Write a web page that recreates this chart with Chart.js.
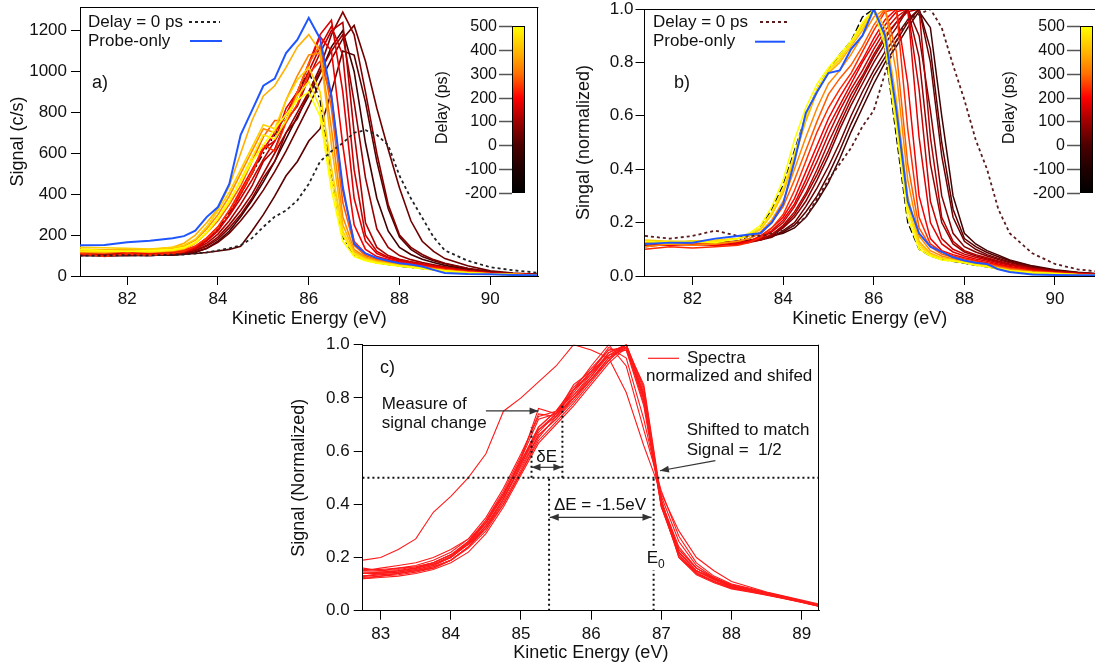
<!DOCTYPE html>
<html>
<head>
<meta charset="utf-8">
<title>Delay-resolved spectra</title>
<script src="https://cdn.jsdelivr.net/npm/chart.js@4.4.1/dist/chart.umd.min.js"></script>
<style>
  html, body { margin: 0; padding: 0; background: #fff; }
  #page { position: relative; width: 1095px; height: 668px; overflow: hidden; background: #fff; }
  #page canvas { position: absolute; }
</style>
</head>
<body>
<div id="page">
  <canvas id="chartA" width="550" height="332" style="left:0;top:0;width:550px;height:332px"></canvas>
  <canvas id="chartB" width="545" height="332" style="left:550px;top:0;width:545px;height:332px"></canvas>
  <canvas id="chartC" width="550" height="338" style="left:280px;top:330px;width:550px;height:338px"></canvas>
</div>
<script>
// -- THE DATA --

// kinetic energy grid (eV) for panels a) and b)
const energyAB = [80.95,81.5,82,82.5,83,83.25,83.5,83.75,84,84.25,84.5,84.75,85,85.25,85.5,85.75,86,86.25,86.5,86.75,87,87.25,87.5,87.75,88,88.25,88.5,88.75,89,89.5,90,90.5,91.05];

// a) signal in counts/s
const probeA = [150,152,165,172,185,195,222,288,337,450,690,810,930,965,1090,1155,1262,1160,880,435,157,110,88,75,62,56,46,30,15,10,8,5,4];
const zeroA  = [100,100,102,100,105,105,110,115,125,135,150,185,240,290,320,370,450,560,610,650,700,713,690,640,490,380,285,190,125,75,43,28,16];
const blackA = [105,100,102,100,105,110,130,170,230,310,400,500,600,690,790,900,1000,860,480,190,100,78,64,56,48,42,36,30,24,15,9,6,4];
const a500 = [130,125,120,125,130,140,165,215,285,370,460,560,640,720,790,860,900,780,420,170,95,75,62,55,48,42,36,30,24,15,9,6,4];
const a460 = [120,118,122,118,125,135,160,210,280,360,470,580,690,670,760,880,950,820,470,200,105,80,66,58,50,44,38,31,25,16,10,7,5];
const a420 = [140,138,135,132,140,150,180,240,320,410,520,630,740,720,860,960,1020,900,530,220,110,82,68,58,50,45,40,32,25,16,10,7,5];
const a380 = [125,125,130,128,140,160,200,260,330,440,600,760,880,930,1020,1120,1180,1100,640,250,120,88,72,62,55,48,40,33,26,16,10,7,5];
const a330 = [130,128,125,130,135,145,175,230,300,390,500,610,720,700,860,980,1080,1090,720,290,130,92,75,64,56,50,43,35,28,18,11,7,5];
const a280 = [115,112,120,115,120,130,160,210,270,350,440,560,680,760,760,900,1040,1130,820,360,150,100,80,68,58,52,45,37,30,19,12,8,5];
const a230 = [110,95,108,102,110,120,145,185,240,320,410,500,640,610,750,840,990,1050,880,420,170,110,86,72,62,55,48,40,32,20,12,8,5];
const a190 = [120,115,118,112,118,125,145,185,240,320,420,520,620,700,790,900,1030,1170,1100,640,250,130,95,80,68,60,52,44,36,22,13,8,5];
const a160 = [105,100,110,105,112,118,135,170,220,300,400,500,620,660,820,900,1040,1180,1250,900,380,170,110,88,74,65,56,47,38,24,14,9,6];
const a130 = [112,110,105,108,115,122,140,175,225,295,380,470,570,660,760,880,1000,1120,1220,1080,520,200,120,92,78,68,58,48,40,25,15,9,6];
const a100 = [108,104,110,106,112,118,132,160,205,270,350,440,560,620,760,830,970,1090,1200,1240,700,260,140,100,82,70,60,50,42,26,15,9,6];
const a70  = [100,102,104,100,108,112,125,150,190,250,320,400,500,600,700,800,900,1000,1100,1180,850,480,230,140,100,80,66,55,45,28,16,10,6];
const a40  = [110,112,108,105,110,115,125,145,180,235,300,380,480,560,700,770,900,1020,1180,1290,1180,900,600,350,200,140,105,80,62,38,20,12,7];
const a10  = [100,105,100,102,105,108,118,135,165,210,270,340,420,510,610,720,830,950,1060,1160,1225,1050,820,620,430,270,170,120,85,50,25,14,8];
const aM20 = [105,100,102,100,104,106,110,115,122,130,145,220,300,390,490,560,660,720,900,1100,1080,850,560,330,190,130,95,75,60,36,20,12,7];
const aM60 = [100,98,100,104,102,106,115,135,170,220,290,370,460,560,670,780,880,990,1120,1200,1000,650,380,220,140,105,82,66,52,32,18,11,6];

// b) normalized signal
const probeB = [0.12,0.125,0.125,0.14,0.15,0.155,0.16,0.2,0.27,0.43,0.61,0.69,0.76,0.77,0.85,0.9,1.0,0.9,0.62,0.28,0.16,0.11,0.09,0.07,0.058,0.05,0.045,0.025,0.015,0.006,0.004,0.003,0.003];
const zeroB  = [0.15,0.14,0.15,0.17,0.15,0.15,0.15,0.16,0.17,0.19,0.22,0.29,0.36,0.42,0.48,0.56,0.62,0.76,0.88,0.96,0.98,1.0,0.93,0.79,0.66,0.51,0.4,0.25,0.16,0.085,0.045,0.025,0.015];
const blackB = [0.12,0.125,0.12,0.125,0.13,0.15,0.18,0.25,0.34,0.47,0.6,0.7,0.77,0.83,0.88,0.97,1.0,0.85,0.52,0.2,0.1,0.075,0.062,0.055,0.048,0.04,0.034,0.027,0.02,0.012,0.008,0.005,0.003];
const b500 = [0.13,0.125,0.13,0.125,0.14,0.16,0.19,0.26,0.36,0.51,0.63,0.72,0.78,0.83,0.88,0.95,1.0,0.86,0.55,0.22,0.1,0.075,0.06,0.055,0.05,0.04,0.035,0.025,0.02,0.012,0.008,0.005,0.003];
const b460 = [0.12,0.13,0.125,0.13,0.14,0.155,0.18,0.24,0.33,0.46,0.6,0.7,0.77,0.82,0.87,0.93,1.0,0.88,0.58,0.25,0.11,0.08,0.065,0.058,0.05,0.042,0.036,0.028,0.02,0.013,0.008,0.005,0.003];
const b420 = [0.135,0.13,0.13,0.135,0.14,0.15,0.175,0.23,0.32,0.45,0.59,0.7,0.77,0.81,0.87,0.94,1.0,0.9,0.61,0.27,0.12,0.08,0.066,0.058,0.051,0.043,0.037,0.029,0.021,0.013,0.008,0.005,0.003];
const b380 = [0.125,0.12,0.13,0.13,0.14,0.15,0.175,0.23,0.31,0.44,0.58,0.69,0.76,0.8,0.86,0.92,1.0,0.93,0.66,0.3,0.13,0.085,0.068,0.06,0.052,0.045,0.038,0.03,0.022,0.014,0.009,0.005,0.003];
const b330 = [0.11,0.12,0.115,0.12,0.13,0.14,0.165,0.21,0.28,0.4,0.52,0.63,0.72,0.77,0.83,0.9,0.97,1.0,0.76,0.36,0.15,0.095,0.075,0.065,0.056,0.048,0.04,0.032,0.024,0.015,0.01,0.006,0.003];
const b280 = [0.13,0.12,0.125,0.12,0.13,0.14,0.16,0.2,0.26,0.36,0.47,0.58,0.68,0.74,0.79,0.86,0.94,1.0,0.84,0.42,0.18,0.11,0.082,0.07,0.06,0.052,0.044,0.035,0.027,0.017,0.011,0.006,0.004];
const b230 = [0.1,0.11,0.105,0.11,0.115,0.125,0.145,0.18,0.23,0.32,0.43,0.54,0.63,0.7,0.76,0.84,0.92,0.99,1.0,0.55,0.22,0.12,0.09,0.075,0.064,0.055,0.046,0.038,0.03,0.019,0.012,0.007,0.004];
const b190 = [0.12,0.115,0.12,0.115,0.12,0.13,0.15,0.18,0.22,0.29,0.39,0.49,0.59,0.67,0.74,0.81,0.89,0.96,1.0,0.72,0.3,0.14,0.095,0.08,0.068,0.058,0.05,0.041,0.033,0.02,0.012,0.007,0.004];
const b160 = [0.11,0.12,0.115,0.12,0.125,0.13,0.145,0.17,0.21,0.27,0.36,0.46,0.56,0.64,0.72,0.8,0.87,0.94,0.99,1.0,0.52,0.2,0.12,0.09,0.075,0.064,0.055,0.045,0.036,0.022,0.013,0.008,0.004];
const b130 = [0.12,0.115,0.12,0.12,0.125,0.13,0.14,0.165,0.2,0.26,0.34,0.43,0.53,0.62,0.7,0.77,0.85,0.92,0.97,1.0,0.7,0.28,0.14,0.1,0.082,0.07,0.06,0.05,0.04,0.025,0.015,0.009,0.005];
const b100 = [0.115,0.12,0.12,0.115,0.12,0.125,0.135,0.155,0.19,0.24,0.31,0.4,0.5,0.59,0.68,0.75,0.83,0.9,0.95,0.99,1.0,0.52,0.22,0.13,0.095,0.08,0.068,0.056,0.045,0.028,0.017,0.01,0.006];
const b70  = [0.12,0.118,0.122,0.12,0.125,0.13,0.138,0.155,0.185,0.23,0.3,0.38,0.47,0.57,0.66,0.74,0.82,0.89,0.95,1.0,0.82,0.42,0.2,0.12,0.09,0.076,0.064,0.053,0.043,0.027,0.016,0.01,0.005];
const b40  = [0.12,0.125,0.12,0.12,0.125,0.13,0.135,0.15,0.18,0.22,0.28,0.36,0.45,0.55,0.64,0.72,0.8,0.87,0.93,1.0,0.9,0.62,0.3,0.16,0.11,0.09,0.075,0.062,0.05,0.031,0.019,0.011,0.006];
const b10  = [0.12,0.12,0.125,0.12,0.125,0.13,0.135,0.145,0.17,0.2,0.26,0.33,0.41,0.5,0.6,0.69,0.77,0.84,0.9,0.96,1.0,0.8,0.45,0.22,0.13,0.1,0.08,0.066,0.053,0.033,0.02,0.012,0.007];
const bM20 = [0.125,0.12,0.12,0.125,0.13,0.13,0.14,0.15,0.165,0.19,0.24,0.3,0.38,0.47,0.57,0.66,0.75,0.82,0.88,0.95,1.0,0.85,0.5,0.25,0.14,0.11,0.088,0.072,0.057,0.036,0.021,0.013,0.007];
const bM60 = [0.13,0.125,0.13,0.125,0.13,0.135,0.14,0.15,0.16,0.18,0.22,0.28,0.35,0.44,0.54,0.63,0.72,0.8,0.86,0.93,0.99,0.93,0.6,0.3,0.16,0.12,0.095,0.078,0.06,0.038,0.023,0.014,0.008];

// pump-probe delay (ps) of each colored spectrum, and the colorbar ticks
const delays = [500,460,420,380,330,280,230,190,160,130,100,70,40,10,-20,-60];
const delayTicks = [-200,-100,0,100,200,300,400,500];

// c) normalized and shifted spectra
const energyC = [82.75,83,83.25,83.5,83.75,84,84.25,84.5,84.75,85,85.25,85.5,85.75,86,86.25,86.5,86.75,87,87.25,87.5,87.75,88,88.25,88.5,88.75,89,89.25];
const cOut = [0.19,0.2,0.23,0.27,0.37,0.43,0.5,0.59,0.75,0.8,0.86,0.92,1.0,0.98,0.95,0.82,0.62,0.44,0.3,0.2,0.15,0.11,0.09,0.07,0.055,0.04,0.025];
const c1  = [0.14,0.14,0.145,0.155,0.17,0.2,0.25,0.32,0.42,0.55,0.67,0.74,0.8,0.88,0.96,1.0,0.8,0.4,0.22,0.15,0.12,0.09,0.08,0.065,0.05,0.035,0.02];
const c2  = [0.13,0.135,0.14,0.15,0.165,0.19,0.24,0.31,0.41,0.53,0.66,0.72,0.79,0.87,0.95,0.99,0.82,0.41,0.21,0.14,0.11,0.085,0.075,0.06,0.048,0.033,0.018];
const c3  = [0.15,0.15,0.155,0.165,0.18,0.21,0.26,0.34,0.44,0.57,0.72,0.74,0.83,0.89,0.97,1.0,0.79,0.39,0.23,0.16,0.12,0.095,0.08,0.066,0.052,0.036,0.02];
const c4  = [0.12,0.13,0.135,0.145,0.16,0.19,0.235,0.3,0.4,0.52,0.64,0.71,0.78,0.86,0.94,1.0,0.83,0.4,0.2,0.14,0.11,0.085,0.072,0.06,0.046,0.032,0.017];
const c5  = [0.155,0.155,0.16,0.17,0.19,0.22,0.27,0.35,0.46,0.59,0.73,0.75,0.84,0.91,0.98,0.99,0.78,0.41,0.24,0.16,0.125,0.098,0.082,0.068,0.053,0.037,0.021];
const c6  = [0.14,0.145,0.15,0.16,0.175,0.205,0.255,0.33,0.43,0.56,0.68,0.73,0.81,0.88,0.97,1.0,0.81,0.4,0.22,0.15,0.115,0.09,0.078,0.063,0.05,0.034,0.019];
const c7  = [0.13,0.14,0.145,0.155,0.17,0.2,0.26,0.34,0.45,0.58,0.74,0.73,0.83,0.9,0.98,0.98,0.77,0.39,0.21,0.145,0.11,0.088,0.076,0.062,0.049,0.034,0.018];
const c8  = [0.145,0.145,0.15,0.16,0.18,0.21,0.25,0.31,0.4,0.52,0.65,0.73,0.8,0.87,0.94,1.0,0.84,0.41,0.22,0.15,0.12,0.092,0.079,0.064,0.05,0.035,0.02];
const c9  = [0.12,0.125,0.13,0.14,0.155,0.18,0.22,0.29,0.39,0.51,0.63,0.7,0.77,0.85,0.93,0.99,0.85,0.42,0.2,0.135,0.105,0.082,0.07,0.058,0.045,0.031,0.016];
const c10 = [0.15,0.16,0.17,0.18,0.2,0.23,0.27,0.33,0.43,0.57,0.76,0.74,0.85,0.9,0.96,0.98,0.8,0.41,0.23,0.16,0.12,0.094,0.08,0.066,0.051,0.036,0.02];
const c11 = [0.14,0.14,0.15,0.16,0.175,0.2,0.25,0.33,0.44,0.56,0.69,0.75,0.83,0.92,1.0,0.92,0.68,0.45,0.28,0.18,0.13,0.1,0.085,0.068,0.053,0.037,0.021];
const c12 = [0.13,0.135,0.14,0.15,0.165,0.19,0.24,0.32,0.42,0.55,0.68,0.74,0.82,0.9,0.99,0.95,0.72,0.43,0.26,0.17,0.125,0.095,0.08,0.065,0.05,0.035,0.02];
const c13 = [0.125,0.13,0.14,0.15,0.16,0.19,0.24,0.31,0.42,0.54,0.66,0.72,0.8,0.87,0.95,1.0,0.81,0.39,0.21,0.14,0.11,0.086,0.074,0.06,0.047,0.033,0.017];
const c14 = [0.16,0.15,0.16,0.165,0.18,0.21,0.26,0.33,0.44,0.56,0.69,0.75,0.81,0.89,0.96,1.0,0.8,0.4,0.22,0.15,0.118,0.09,0.078,0.064,0.05,0.035,0.02];

// c) guide lines and arrows (eV, normalized signal)
const halfSpan = [82.74, 89.25];
const halfLevel = [0.5, 0.5];
const dropLevel = [0, 0.5];
const e0Line = [86.89, 86.89];
const e1Line = [85.4, 85.4];
const dELeft = [85.15, 85.15];
const dELeftY = [0.5, 0.69];
const dERight = [85.59, 85.59];
const dERightY = [0.5, 0.773];
const arrowMeasure = [84.5, 0.751, 85.25, 0.751];
const arrowSmall = [85.15, 0.539, 85.59, 0.539];
const arrowBig = [85.41, 0.351, 86.86, 0.351];
const arrowShift = [87.77, 0.564, 86.98, 0.526];

// axis ticks
const ticksABx = [82,84,86,88,90];
const ticksAy = [0,200,400,600,800,1000,1200];
const ticksNorm = [0,0.2,0.4,0.6,0.8,1.0];
const ticksCx = [83,84,85,86,87,88,89];

// -- STYLE --

const FONT = '"Liberation Sans", Arial, sans-serif';
const BLUE = '#1f56ff';
const curvesA = [a500,a460,a420,a380,a330,a280,a230,a190,a160,a130,a100,a70,a40,a10,aM20,aM60];
const curvesB = [b500,b460,b420,b380,b330,b280,b230,b190,b160,b130,b100,b70,b40,b10,bM20,bM60];
const curvesC = [cOut,c1,c2,c3,c4,c5,c6,c7,c8,c9,c10,c11,c12,c13,c14];
const delayColors = ['#ffff00','#ffea00','#ffd000','#ffb000','#ff8a00','#ff5c00','#ff2a00','#f50000',
                     '#e00000','#c80000','#b00000','#980000','#840000','#6e0000','#5a0000','#420000'];
const cbStops = [[0,'#000000'],[0.143,'#200000'],[0.286,'#4c0000'],[0.429,'#a00000'],
                 [0.571,'#ff0000'],[0.714,'#ff7000'],[0.857,'#ffbc00'],[1,'#ffff00']];

Chart.defaults.font.family = FONT;
Chart.defaults.color = '#111';

function series(xs, ys, color, width, dash) {
  return {
    data: xs.map((x, i) => ({x: x, y: ys[i]})),
    borderColor: color,
    backgroundColor: color,
    borderWidth: width,
    borderDash: dash || [],
    pointRadius: 0,
    tension: 0,
    fill: false
  };
}

function axes(o) {
  return {
    x: {
      type: 'linear', min: o.xMin, max: o.xMax,
      border: {color: '#000', width: 1},
      grid: {drawOnChartArea: false, color: '#000', tickLength: 9},
      ticks: {color: '#111', font: {size: 17}, padding: 4, maxRotation: 0, autoSkip: false},
      afterBuildTicks: s => { s.ticks = o.xTicks.map(v => ({value: v})); },
      afterFit: s => { s.height = o.xH; s.paddingLeft = 0; s.paddingRight = 0; },
      title: {display: true, text: 'Kinetic Energy (eV)', color: '#111', font: {size: 18},
              padding: {top: 0, bottom: o.xTitlePad}}
    },
    y: {
      type: 'linear', min: o.yMin, max: o.yMax,
      border: {color: '#000', width: 1},
      grid: {drawOnChartArea: false, color: '#000', tickLength: 9},
      ticks: {color: '#111', font: {size: 17}, padding: o.yTickPad, autoSkip: false, callback: o.yFmt},
      afterBuildTicks: s => { s.ticks = o.yTicks.map(v => ({value: v})); },
      afterFit: s => { s.width = o.yW; s.paddingTop = 0; s.paddingBottom = 0; },
      title: {display: true, text: o.yTitle, color: '#111', font: {size: 18},
              padding: {top: o.yTitlePad, bottom: 0}}
    }
  };
}

function arrowHead(ctx, x1, y1, x2, y2) {
  const ang = Math.atan2(y2 - y1, x2 - x1), L = 9, W = 3.5;
  const c = Math.cos(ang), s = Math.sin(ang);
  ctx.beginPath();
  ctx.moveTo(x2, y2);
  ctx.lineTo(x2 - L * c + W * s, y2 - L * s - W * c);
  ctx.lineTo(x2 - L * c - W * s, y2 - L * s + W * c);
  ctx.closePath();
  ctx.fill();
}

// frame, legend, labels, colorbar and arrows
const decor = {
  id: 'decor',
  afterDatasetsDraw(chart, args, o) {
    const ctx = chart.ctx, a = chart.chartArea;
    const sx = chart.scales.x, sy = chart.scales.y;
    ctx.save();
    ctx.strokeStyle = '#000';
    ctx.lineWidth = 1;
    ctx.setLineDash([]);
    ctx.beginPath();
    ctx.moveTo(a.left, Math.round(a.top) + 0.5);
    ctx.lineTo(a.right, Math.round(a.top) + 0.5);
    if (o.rightFrame) {
      ctx.moveTo(Math.round(a.right) - 0.5, a.top);
      ctx.lineTo(Math.round(a.right) - 0.5, a.bottom);
    }
    ctx.stroke();

    (o.legend || []).forEach(l => {
      ctx.strokeStyle = l.color;
      ctx.lineWidth = l.width;
      ctx.setLineDash(l.dash || []);
      ctx.beginPath();
      ctx.moveTo(l.x1, l.y);
      ctx.lineTo(l.x2, l.y);
      ctx.stroke();
    });
    ctx.setLineDash([]);

    (o.arrows || []).forEach(r => {
      const x1 = sx.getPixelForValue(r.p[0]), y1 = sy.getPixelForValue(r.p[1]);
      const x2 = sx.getPixelForValue(r.p[2]), y2 = sy.getPixelForValue(r.p[3]);
      ctx.strokeStyle = '#333';
      ctx.fillStyle = '#333';
      ctx.lineWidth = 1.2;
      ctx.beginPath();
      ctx.moveTo(x1, y1);
      ctx.lineTo(x2, y2);
      ctx.stroke();
      arrowHead(ctx, x1, y1, x2, y2);
      if (r.both) arrowHead(ctx, x2, y2, x1, y1);
    });

    ctx.textBaseline = 'middle';
    (o.texts || []).forEach(t => {
      const size = t.size || 17;
      ctx.font = size + 'px ' + FONT;
      ctx.textAlign = t.align || 'left';
      if (t.bg) {
        const w = ctx.measureText(t.text).width + (t.sub ? 10 : 0);
        ctx.fillStyle = '#fff';
        ctx.fillRect(t.x - 2, t.y - 10, w + 4, 22);
      }
      ctx.fillStyle = '#111';
      ctx.fillText(t.text, t.x, t.y);
      if (t.sub) {
        const w = ctx.measureText(t.text).width;
        ctx.font = '12px ' + FONT;
        ctx.fillText(t.sub, t.x + w, t.y + 6);
      }
    });

    const cb = o.colorbar;
    if (cb) {
      const g = ctx.createLinearGradient(0, cb.y + cb.h, 0, cb.y);
      cbStops.forEach(s => g.addColorStop(s[0], s[1]));
      ctx.fillStyle = g;
      ctx.fillRect(cb.x, cb.y, cb.w, cb.h);
      ctx.strokeStyle = '#000';
      ctx.lineWidth = 1;
      ctx.strokeRect(cb.x + 0.5, cb.y + 0.5, cb.w - 1, cb.h - 1);
      const lo = delayTicks[0], hi = delayTicks[delayTicks.length - 1];
      ctx.font = '16px ' + FONT;
      ctx.textAlign = 'right';
      delayTicks.forEach(v => {
        const y = Math.round(cb.y + cb.h - (v - lo) / (hi - lo) * cb.h) + 0.5;
        ctx.strokeStyle = '#555';
        ctx.lineWidth = 1.5;
        ctx.beginPath();
        ctx.moveTo(cb.x - 13, y);
        ctx.lineTo(cb.x, y);
        ctx.stroke();
        ctx.fillStyle = '#111';
        ctx.fillText(String(v), cb.x - 15, y);
      });
      ctx.save();
      ctx.translate(cb.titleX, cb.y + cb.h / 2 - 2);
      ctx.rotate(-Math.PI / 2);
      ctx.textAlign = 'center';
      ctx.font = '16px ' + FONT;
      ctx.fillText('Delay (ps)', 0, 0);
      ctx.restore();
    }
    ctx.restore();
  }
};

// -- THE CHARTS --

// first dataset is drawn on top; the -200 ps (black) spectrum sits underneath
const setsA = [
  series(energyAB, probeA, BLUE, 2),
  series(energyAB, zeroA, '#222', 1.8, [3, 3])
].concat(curvesA.map((c, i) => series(energyAB, c, delayColors[i], 1.6)))
 .concat([series(energyAB, blackA, '#000', 1.4, [7, 3, 2, 3])]);

new Chart('chartA', {
  type: 'line',
  data: {datasets: setsA},
  options: {
    responsive: false, animation: false, events: [],
    layout: {padding: {left: 0, top: 7, right: 11.6, bottom: 0}},
    scales: axes({xMin: 80.96, xMax: 91.06, xTicks: ticksABx, xH: 56, xTitlePad: 2,
                  yMin: 0, yMax: 1315, yTicks: ticksAy, yW: 80, yTickPad: 4, yTitlePad: 7,
                  yTitle: 'Signal (c/s)', yFmt: v => String(v)}),
    plugins: {
      legend: {display: false}, tooltip: {enabled: false},
      decor: {
        rightFrame: true,
        legend: [
          {x1: 189, x2: 220, y: 22, color: '#222', width: 2, dash: [3, 3]},
          {x1: 190, x2: 222, y: 41, color: BLUE, width: 2}
        ],
        texts: [
          {text: 'Delay = 0 ps', x: 88, y: 22},
          {text: 'Probe-only', x: 88, y: 41},
          {text: 'a)', x: 92, y: 83, size: 18}
        ],
        colorbar: {x: 512, y: 26, w: 13, h: 167, titleX: 443}
      }
    }
  },
  plugins: [decor]
});

const setsB = [
  series(energyAB, probeB, BLUE, 2),
  series(energyAB, zeroB, '#5a1c1c', 1.8, [3, 3])
].concat(curvesB.map((c, i) => series(energyAB, c, delayColors[i], 1.5)))
 .concat([series(energyAB, blackB, '#000', 1.4, [7, 3])]);

new Chart('chartB', {
  type: 'line',
  data: {datasets: setsB},
  options: {
    responsive: false, animation: false, events: [],
    layout: {padding: {left: 0, top: 9, right: 0, bottom: 0}},
    scales: axes({xMin: 80.94, xMax: 90.883, xTicks: ticksABx, xH: 56, xTitlePad: 2,
                  yMin: 0, yMax: 1, yTicks: ticksNorm, yW: 94.5, yTickPad: 2, yTitlePad: 23,
                  yTitle: 'Singal (normalized)', yFmt: v => v.toFixed(1)}),
    plugins: {
      legend: {display: false}, tooltip: {enabled: false},
      decor: {
        rightFrame: false,
        legend: [
          {x1: 210, x2: 240, y: 22, color: '#5a1c1c', width: 2, dash: [3, 3]},
          {x1: 205, x2: 235, y: 41.7, color: BLUE, width: 2}
        ],
        texts: [
          {text: 'Delay = 0 ps', x: 103, y: 22},
          {text: 'Probe-only', x: 103, y: 41.7},
          {text: 'b)', x: 124, y: 83, size: 18}
        ],
        colorbar: {x: 530, y: 26, w: 13, h: 167, titleX: 460}
      }
    }
  },
  plugins: [decor]
});

const GUIDE = '#111';
const setsC = [
  series(halfSpan, halfLevel, GUIDE, 2, [2, 3]),
  series(e1Line, dropLevel, GUIDE, 2, [2, 3]),
  series(e0Line, dropLevel, GUIDE, 2, [2, 3]),
  series(dELeft, dELeftY, GUIDE, 2, [2, 3]),
  series(dERight, dERightY, GUIDE, 2, [2, 3])
].concat(curvesC.map(c => series(energyC, c, '#ff1a1a', 1.1)));

new Chart('chartC', {
  type: 'line',
  data: {datasets: setsC},
  options: {
    responsive: false, animation: false, events: [],
    layout: {padding: {left: 0, top: 14.7, right: 11, bottom: 0}},
    scales: axes({xMin: 82.744, xMax: 89.247, xTicks: ticksCx, xH: 57.3, xTitlePad: 3.9,
                  yMin: 0, yMax: 1, yTicks: ticksNorm, yW: 82.7, yTickPad: 4, yTitlePad: 8.7,
                  yTitle: 'Signal (Normalized)', yFmt: v => v.toFixed(1)}),
    plugins: {
      legend: {display: false}, tooltip: {enabled: false},
      decor: {
        rightFrame: true,
        legend: [{x1: 368, x2: 399, y: 28.3, color: '#ff2020', width: 1.2}],
        arrows: [
          {p: arrowMeasure, both: false},
          {p: arrowSmall, both: true},
          {p: arrowBig, both: true},
          {p: arrowShift, both: false}
        ],
        texts: [
          {text: 'Spectra', x: 407, y: 28.3},
          {text: 'normalized and shifed', x: 366, y: 46.7},
          {text: 'c)', x: 100, y: 38, size: 18},
          {text: 'Measure of', x: 101.7, y: 74},
          {text: 'signal change', x: 101.7, y: 93.3},
          {text: 'δE', x: 266.7, y: 127.3, align: 'center'},
          {text: 'ΔE = -1.5eV', x: 320, y: 175, align: 'center'},
          {text: 'Shifted to match', x: 406.7, y: 100.7},
          {text: 'Signal =  1/2', x: 406.7, y: 120},
          {text: 'E', sub: '0', x: 366.7, y: 228.3, bg: true}
        ]
      }
    }
  },
  plugins: [decor]
});
</script>
</body>
</html>
